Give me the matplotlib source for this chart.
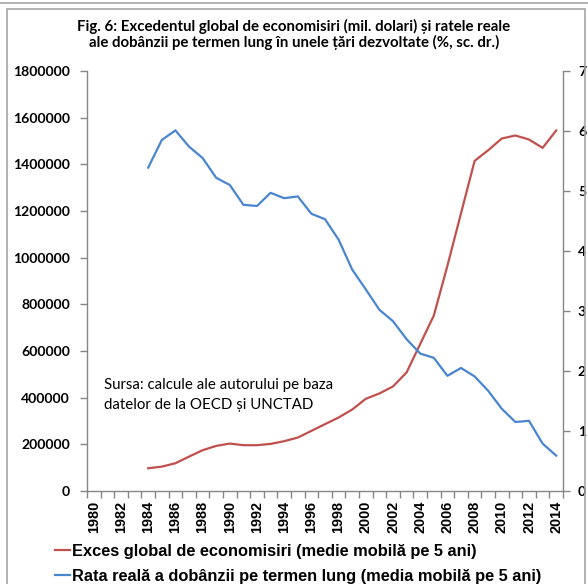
"""
Fig. 6: excedentul global de economisiri vs. rata reala a dobanzii.
"""

from matplotlib import pyplot as plt
from matplotlib.lines import Line2D
from matplotlib.patches import Rectangle
import numpy as np

years = list(range(1980, 2015))
first_year = 1984

# exces global de economisiri, mil. dolari (medie mobila 5 ani), 1984-2014
savings = [97500, 104400, 119000, 147300, 174800, 193300, 203200, 196300,
           196300, 201900, 213500, 229000, 257700, 286500, 314900, 349200,
           395200, 418000, 448000, 508200, 630000, 751700, 965000, 1190000,
           1414600, 1460500, 1510700, 1523600, 1506400, 1470500, 1545100]

# rata reala a dobanzii pe termen lung, % (medie mobila 5 ani), 1984-2014
rates = [5.39, 5.85, 6.01, 5.74, 5.55, 5.22, 5.10, 4.77, 4.75, 4.97, 4.88,
         4.91, 4.62, 4.53, 4.19, 3.69, 3.36, 3.02, 2.83, 2.53, 2.29, 2.22,
         1.92, 2.05, 1.91, 1.67, 1.37, 1.15, 1.17, 0.79, 0.59]

left_ticks = [0, 200000, 400000, 600000, 800000, 1000000, 1200000, 1400000,
              1600000, 1800000]
right_ticks = [0, 1, 2, 3, 4, 5, 6, 7]

title_lines = ["Fig. 6: Excedentul global de economisiri (mil. dolari) și ratele reale",
               "ale dobânzii pe termen lung în unele țări dezvoltate (%, sc. dr.)"]
source_lines = ["Sursa: calcule ale autorului pe baza",
                "datelor de la OECD și UNCTAD"]
series_labels = ["Exces global de economisiri (medie mobilă pe 5 ani)",
                 "Rata reală a dobânzii pe termen lung (media mobilă pe 5 ani)"]

RED = "#C0504D"
BLUE = "#4A86D0"
GREY = "#868686"
W, H = 588, 584


def fy(y_px):
    """ pixel row from the top -> figure fraction """
    return 1 - y_px / H


def fit(text, target, renderer, dim="w"):
    """ scale a text so its box is target pixels wide (or tall) """
    bb = text.get_window_extent(renderer)
    cur = bb.width if dim == "w" else bb.height
    return text.get_fontsize() * target / cur


def main():
    fig = plt.figure(figsize=(W / 100, H / 100), dpi=100)

    # chart frame like the Excel export
    fig.patches.append(Rectangle((7 / W, -0.02), 578 / W, fy(9) + 0.02,
                                 transform=fig.transFigure, fill=False,
                                 edgecolor="#A6A6A6", lw=1.2))
    fig.lines.append(Line2D([0, 1], [fy(3), fy(3)],
                            transform=fig.transFigure, color="#A6A6A6", lw=1.2))

    ax = fig.add_axes([87 / W, 93 / H, 476 / W, 420 / H])
    ax2 = ax.twinx()

    idx = np.arange(len(years))
    start = years.index(first_year)
    xs = idx[start:start + len(savings)]

    ax.plot(xs, savings, color=RED, lw=1.6, solid_joinstyle="round")
    ax2.plot(xs, rates, color=BLUE, lw=1.6, solid_joinstyle="round")

    ax.set_xlim(-0.5, len(years) - 0.5)
    ax.set_ylim(0, 1800000)
    ax2.set_ylim(0, 7)

    ax.set_yticks(left_ticks)
    ax.set_yticklabels([str(v) for v in left_ticks], fontfamily="Lato",
                       fontweight="bold", fontsize=11)
    ax2.set_yticks(right_ticks)
    ax2.set_yticklabels([str(v) for v in right_ticks], fontfamily="Lato",
                        fontweight="bold", fontsize=11)

    # labels every other year, tick marks on category boundaries
    ax.set_xticks(idx[::2])
    ax.set_xticklabels([str(y) for y in years[::2]], rotation=90,
                       fontsize=10.5, fontweight="bold",
                       fontfamily="Liberation Sans")
    ax.set_xticks(np.arange(-0.5, len(years), 1.0), minor=True)
    ax.tick_params(axis="x", which="major", length=0, pad=7)
    ax.tick_params(axis="x", which="minor", length=5, color=GREY, width=1)

    for a in (ax, ax2):
        a.tick_params(axis="y", length=5, color=GREY, width=1)
        a.spines["top"].set_visible(False)
        for side in ("left", "right", "bottom"):
            a.spines[side].set_color(GREY)
            a.spines[side].set_linewidth(1)
    ax.spines["right"].set_visible(False)
    ax2.spines["left"].set_visible(False)
    ax2.spines["bottom"].set_visible(False)
    ax.tick_params(axis="y", pad=8)
    ax2.tick_params(axis="y", pad=7)

    # title: two centred lines, bold
    titles = [fig.text(0.5, fy(yb), s, ha="center", va="baseline",
                       fontfamily="Lato", fontweight="bold", fontsize=11)
              for s, yb in zip(title_lines, [30.7, 47.3])]

    sources = [fig.text(104 / W, fy(yb), s, ha="left", va="baseline",
                        fontfamily="Lato", fontsize=10.5)
               for s, yb in zip(source_lines, [389.3, 409.3])]

    # legend rows below the year labels
    legend_texts = []
    for label, color, yl, yb in zip(series_labels, [RED, BLUE],
                                    [550, 575], [556, 581]):
        fig.lines.append(Line2D([55 / W, 70 / W], [fy(yl), fy(yl)],
                                transform=fig.transFigure, color=color, lw=1.6))
        legend_texts.append(fig.text(72.5 / W, fy(yb), label, ha="left",
                                     va="baseline", fontfamily="Liberation Sans",
                                     fontweight="bold", fontsize=11))

    # size the texts to the widths measured on the reference
    fig.canvas.draw()
    r = fig.canvas.get_renderer()
    size = fit(titles[0], 433, r)
    for t in titles:
        t.set_fontsize(size)
    size = fit(sources[0], 230, r)
    for t in sources:
        t.set_fontsize(size)
    size = fit(legend_texts[1], 473, r)
    for t in legend_texts:
        t.set_fontsize(size)
    ax.tick_params(axis="x", which="major",
                   labelsize=fit(ax.get_xticklabels()[0], 32, r, "h"))
    ysize = fit(ax.get_yticklabels()[-1], 57, r)
    ax.tick_params(axis="y", labelsize=ysize)
    ax2.tick_params(axis="y", labelsize=ysize)

    # then the label gaps from the axes
    fig.canvas.draw()
    r = fig.canvas.get_renderer()
    bb = ax.get_xticklabels()[0].get_window_extent(r)
    ax.tick_params(axis="x", which="major", pad=7 + (bb.y1 - (H - 500.7)) * 0.72)
    bb = ax.get_yticklabels()[-1].get_window_extent(r)
    ax.tick_params(axis="y", pad=8 + (bb.x1 - 70) * 0.72)
    bb = ax2.get_yticklabels()[6].get_window_extent(r)
    ax2.tick_params(axis="y", pad=7 + (578 - bb.x0) * 0.72)

    fig.savefig("out.png", dpi=100)


main()
